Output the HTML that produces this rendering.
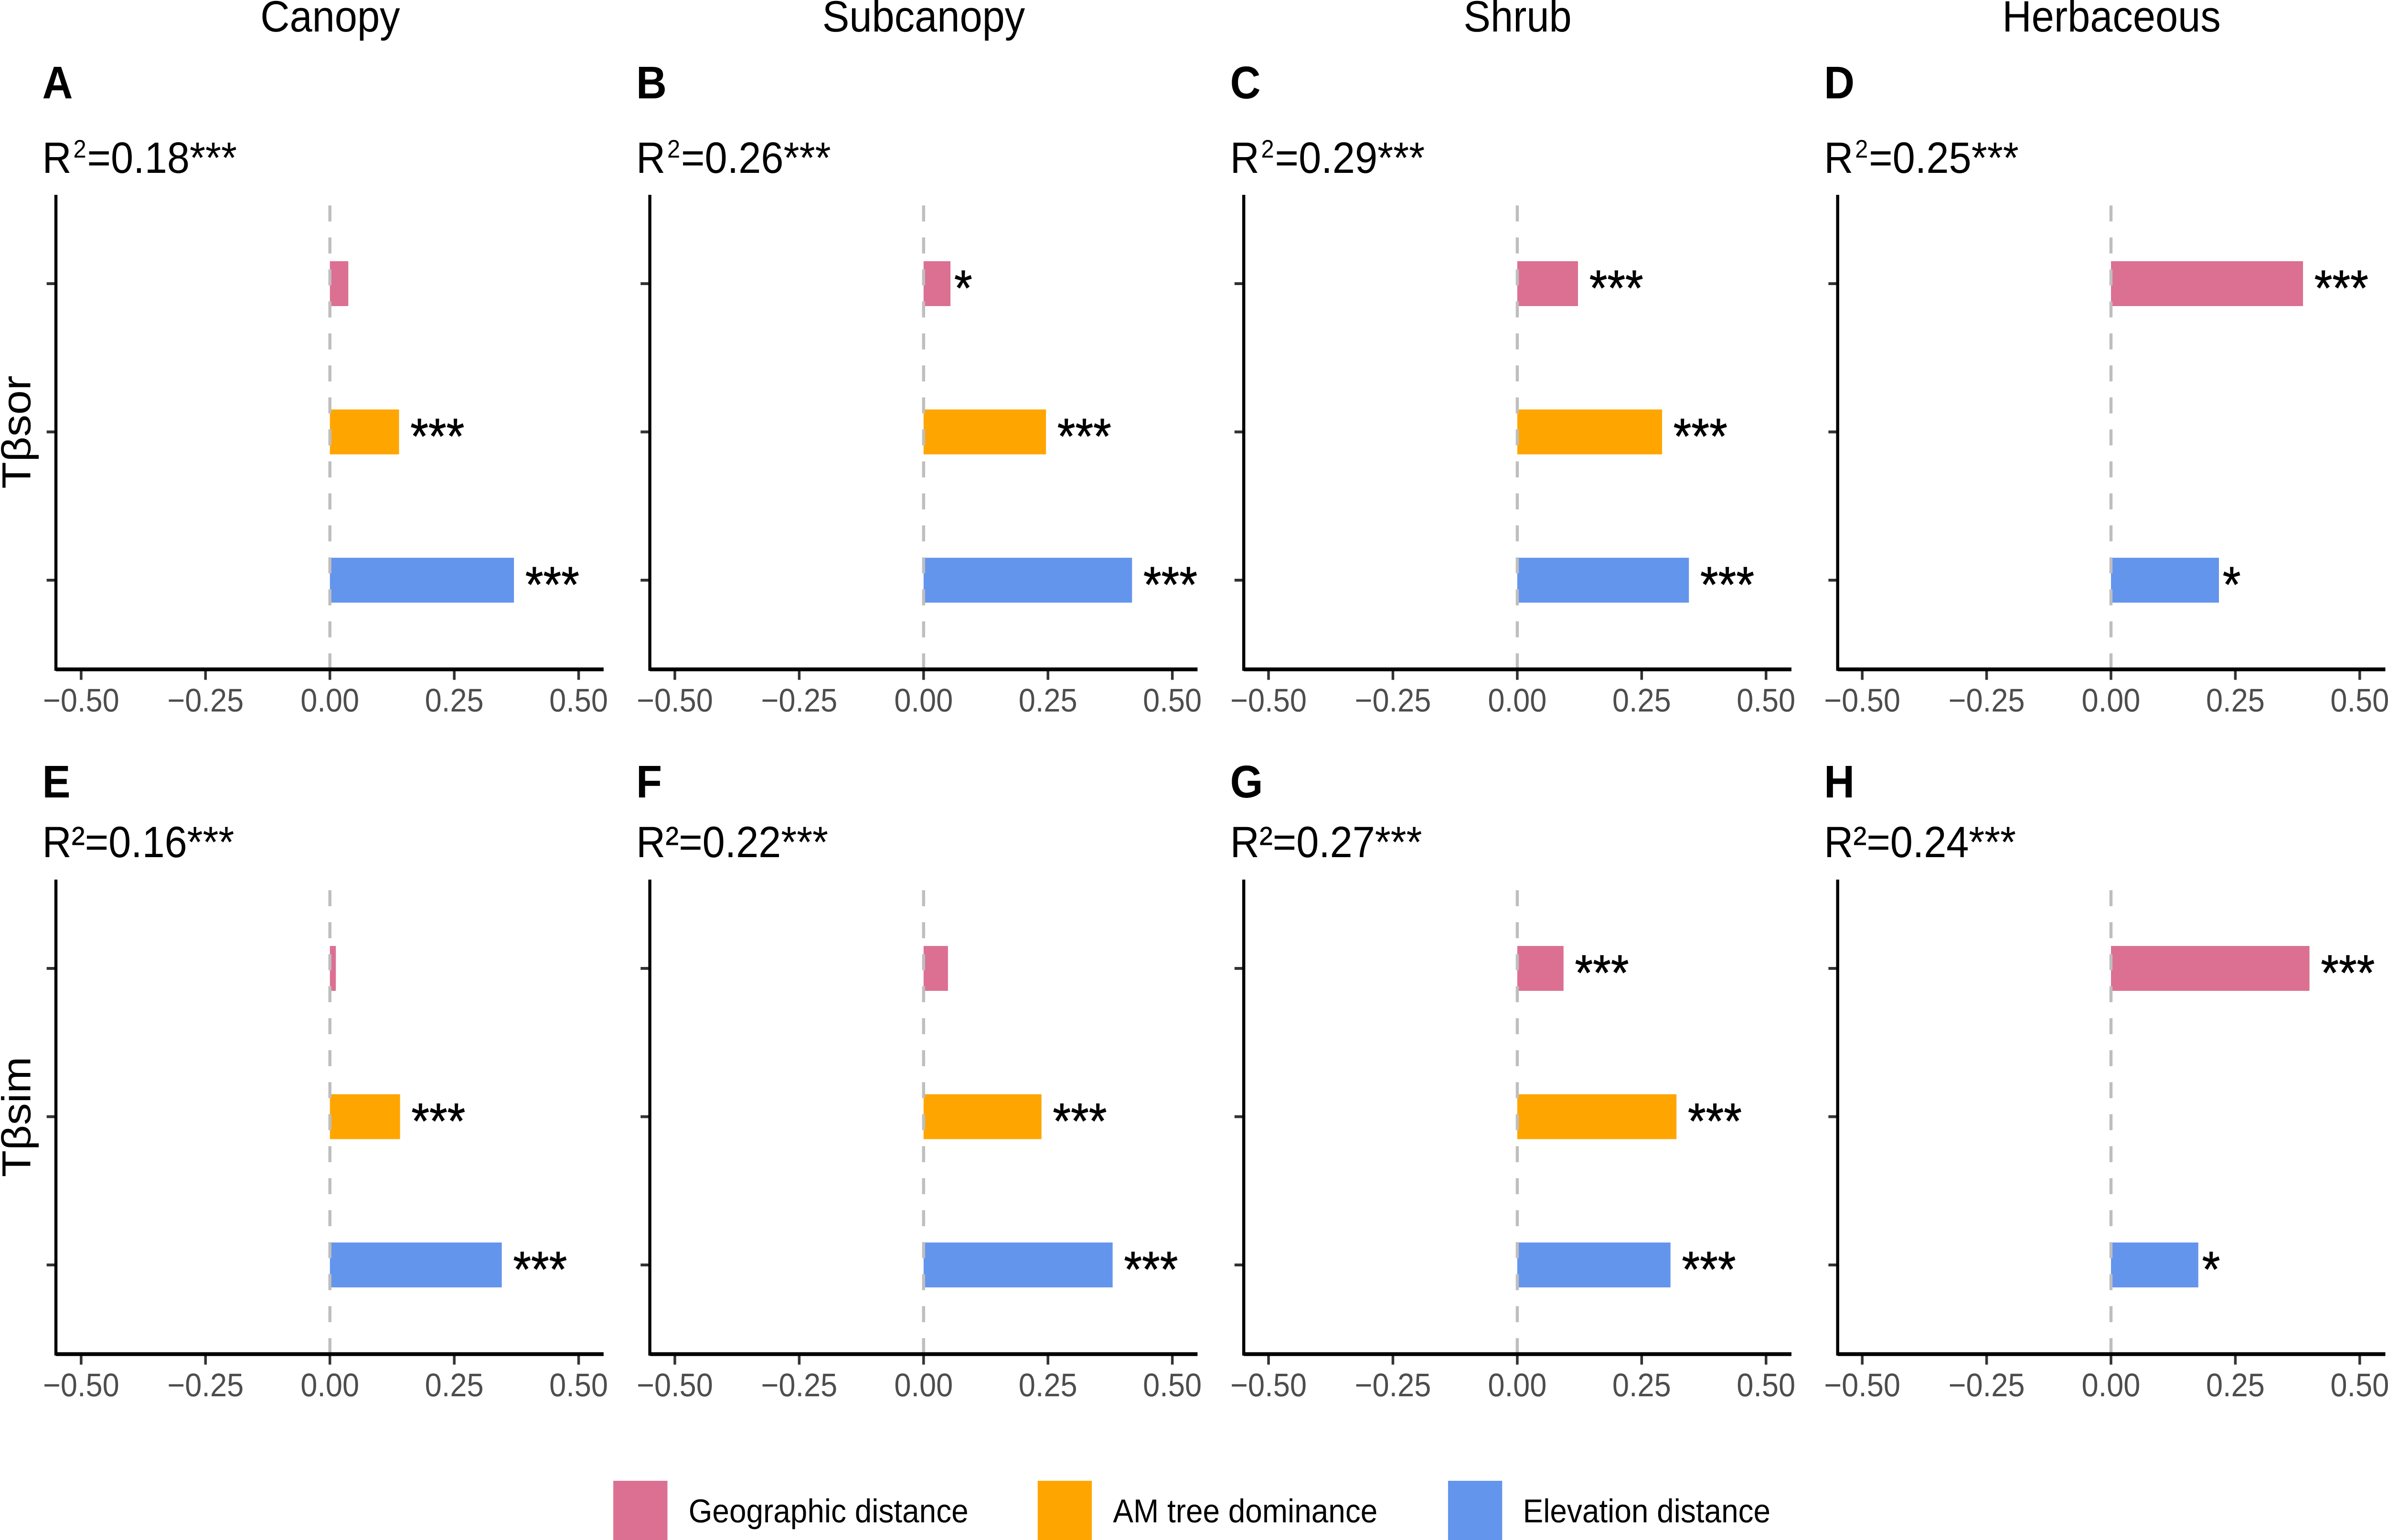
<!DOCTYPE html>
<html lang="en">
<head>
<meta charset="utf-8">
<title>Regression coefficients by vegetation layer</title>
<style>
html,body{margin:0;padding:0;background:#fff;width:100%;height:100%;overflow:hidden}
svg{display:block;width:100vw;height:100vh}
text{font-family:"Liberation Sans",sans-serif;fill:#000;text-rendering:geometricPrecision}
.col{font-size:92px;text-anchor:middle}
.let{font-size:96px;font-weight:bold}
.r2{font-size:92px}
.leg{font-size:69.3px}
</style>
</head>
<body>
<svg id="chart" xmlns="http://www.w3.org/2000/svg" viewBox="0 0 5424 3225" preserveAspectRatio="none">
<rect width="5424" height="3225" fill="#fff"/>

<text class="col" x="750" y="66">Canopy</text>
<text class="col" x="2098" y="66">Subcanopy</text>
<text class="col" x="3447" y="66">Shrub</text>
<text class="col" x="4796" y="66">Herbaceous</text>

<text class="let" x="96" y="206">A</text>
<text class="let" x="1445" y="206">B</text>
<text class="let" x="2794" y="206">C</text>
<text class="let" x="4143" y="206">D</text>
<text class="let" x="96" y="1670">E</text>
<text class="let" x="1445" y="1670">F</text>
<text class="let" x="2794" y="1670">G</text>
<text class="let" x="4143" y="1670">H</text>

<text class="r2" x="96" y="362">R<tspan font-size="53" dx="4" dy="-32">2</tspan><tspan dx="2" dy="32">=0.18***</tspan></text>
<text class="r2" x="1445" y="362">R<tspan font-size="53" dx="4" dy="-32">2</tspan><tspan dx="2" dy="32">=0.26***</tspan></text>
<text class="r2" x="2794" y="362">R<tspan font-size="53" dx="4" dy="-32">2</tspan><tspan dx="2" dy="32">=0.29***</tspan></text>
<text class="r2" x="4143" y="362">R<tspan font-size="53" dx="4" dy="-32">2</tspan><tspan dx="2" dy="32">=0.25***</tspan></text>
<text class="r2" x="96" y="1795" textLength="436">R²=0.16***</text>
<text class="r2" x="1445" y="1795" textLength="436">R²=0.22***</text>
<text class="r2" x="2794" y="1795" textLength="436">R²=0.27***</text>
<text class="r2" x="4143" y="1795" textLength="436">R²=0.24***</text>

<text class="col" transform="translate(69 905) rotate(-90)">Tβsor</text>
<text class="col" transform="translate(69 2339) rotate(-90)">Tβsim</text>

<g id="panels"></g>

<g>
<rect x="1393" y="3101" width="123" height="124" fill="#DB7093"/>
<text class="leg" x="1564" y="3188">Geographic distance</text>
<rect x="2357" y="3101" width="123" height="124" fill="#FFA500"/>
<text class="leg" x="2528" y="3188">AM tree dominance</text>
<rect x="3289" y="3101" width="123" height="124" fill="#6495ED"/>
<text class="leg" x="3459" y="3188">Elevation distance</text>
</g>
</svg>

<script>
// Panel order: A B C D E F G H
const panelIds = ['a', 'b', 'c', 'd', 'e', 'f', 'g', 'h'];
const tickValues = [-0.5, -0.25, 0, 0.25, 0.5];
const tickLabels = ['\u22120.50', '\u22120.25', '0.00', '0.25', '0.50'];
const geographicValues = [0.037, 0.054, 0.122, 0.386, 0.012, 0.049, 0.093, 0.399];
const amDominanceValues = [0.139, 0.246, 0.291, null, 0.141, 0.237, 0.320, null];
const elevationValues = [0.370, 0.419, 0.345, 0.217, 0.3455, 0.380, 0.308, 0.1755];
const geographicStars = ['', '*', '***', '***', '', '', '***', '***'];
const amDominanceStars = ['***', '***', '***', '', '***', '***', '***', ''];
const elevationStars = ['***', '***', '***', '*', '***', '***', '***', '*'];
const seriesNames = ['geographic-distance', 'am-tree-dominance', 'elevation-distance'];
const seriesColors = ['#DB7093', '#FFA500', '#6495ED'];
const seriesValues = [geographicValues, amDominanceValues, elevationValues];
const seriesStars = [geographicStars, amDominanceStars, elevationStars];

const NS = 'http://www.w3.org/2000/svg';
const COL_STEP = 1348.5;
const AXIS_COL_STEP = 1349;
const ROW_STEP = 1434;
const AXIS_LEFT = 127;
const ZERO_X = 749.3;
const PLOT_RIGHT = 1371;
const PLOT_TOP = 408;
const PLOT_BOTTOM = 1401.7;
const PX_PER_UNIT = 1130;
const CATEGORY_FIRST = 594;
const CATEGORY_STEP = 310.5;
const BAR_HEIGHT = 94;
const STAR_SIZE = 105;
const STAR_ADVANCE = 0.389 * STAR_SIZE;

function xScale(value, col) { return ZERO_X + col * COL_STEP + value * PX_PER_UNIT; }
function yScale(category, row) { return CATEGORY_FIRST + category * CATEGORY_STEP + row * ROW_STEP; }
function shape(tag, parent, props) {
  const node = document.createElementNS(NS, tag);
  for (const key in props) node.setAttribute(key, props[key]);
  parent.appendChild(node);
  return node;
}

const root = document.getElementById('panels');
panelIds.forEach(function (id, index) {
  const col = index % 4;
  const row = Math.floor(index / 4);
  const dx = col * AXIS_COL_STEP;
  const dy = row * ROW_STEP;

  const panel = shape('g', root, {});
  
  

  seriesValues.forEach(function (values, s) {
    const v = values[index];
    if (v === null) return;
    const yc = yScale(s, row);
    const bar = shape('rect', panel, {
      x: xScale(0, col), y: yc - BAR_HEIGHT / 2,
      width: xScale(v, col) - xScale(0, col), height: BAR_HEIGHT,
      fill: seriesColors[s]
    });
    
    
    const stars = seriesStars[s][index];
    if (stars) {
      const t = shape('text', panel, {
        x: xScale(v, col) + 0.21 * stars.length * STAR_ADVANCE, y: yc + 45,
        'font-size': STAR_SIZE, style: 'stroke:#000;stroke-width:1'
      });
      t.textContent = stars;
      
      
    }
  });

  const zero = shape('line', panel, {
    x1: xScale(0, col), x2: xScale(0, col), y1: PLOT_BOTTOM + dy, y2: PLOT_TOP + dy,
    stroke: '#BEBEBE', 'stroke-width': 7, 'stroke-dasharray': '33.5 33.5'
  });
  
  

  seriesValues.forEach(function (values, s) {
    const yc = yScale(s, row);
    const tick = shape('line', panel, {
      x1: AXIS_LEFT + dx - 21, x2: AXIS_LEFT + dx, y1: yc, y2: yc,
      stroke: '#333', 'stroke-width': 6
    });
    
    
  });

  tickValues.forEach(function (value, t) {
    const x = xScale(value, col);
    const tick = shape('line', panel, {
      x1: x, x2: x, y1: PLOT_BOTTOM + dy, y2: PLOT_BOTTOM + dy + 22,
      stroke: '#333', 'stroke-width': 6
    });
    
    
    const label = shape('text', panel, {
      x: x, y: PLOT_BOTTOM + dy + 88.5, 'font-size': 68.5, 'text-anchor': 'middle', style: 'fill:#4D4D4D'
    });
    label.textContent = tickLabels[t];
    
    
  });

  const yAxis = shape('line', panel, {
    x1: AXIS_LEFT + dx, x2: AXIS_LEFT + dx, y1: PLOT_TOP + dy, y2: PLOT_BOTTOM + dy + 3,
    stroke: '#000', 'stroke-width': 7
  });
  
  
  const xAxis = shape('line', panel, {
    x1: AXIS_LEFT + dx, x2: PLOT_RIGHT + dx, y1: PLOT_BOTTOM + dy, y2: PLOT_BOTTOM + dy,
    stroke: '#000', 'stroke-width': 8
  });
  
  
});
</script>
</body>
</html>
